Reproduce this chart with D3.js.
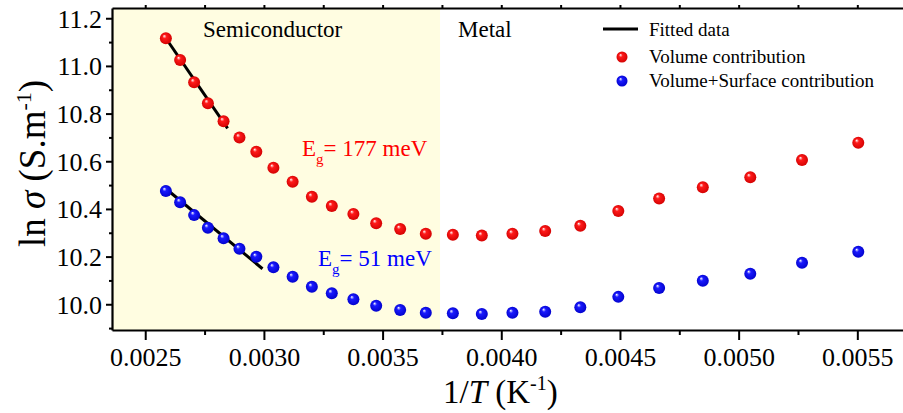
<!DOCTYPE html>
<html>
<head>
<meta charset="utf-8">
<script src="https://cdn.jsdelivr.net/npm/d3@7"></script>
<style>
  body { margin: 0; background: #fff; }
  svg { display: block; font-family: "Liberation Serif", "Times New Roman", serif; }
  svg text { font-family: "Liberation Serif", "Times New Roman", serif; }
</style>
</head>
<body>
<div id="chart"></div>
<script>
// 1/T values (K^-1) shared by both series
var invT = [0.002587, 0.002647, 0.002706, 0.002764, 0.002830, 0.002897, 0.002968,
  0.003040, 0.003121, 0.003202, 0.003286, 0.003377, 0.003473, 0.003574, 0.003682,
  0.003796, 0.003918, 0.004047, 0.004185, 0.004333, 0.004493, 0.004665, 0.004849,
  0.005049, 0.005267, 0.005504];

// ln sigma, volume contribution
var lnVolume = [11.116, 11.025, 10.931, 10.843, 10.768, 10.700, 10.640, 10.573,
  10.514, 10.451, 10.412, 10.379, 10.340, 10.316, 10.296, 10.292, 10.288, 10.296,
  10.307, 10.329, 10.391, 10.444, 10.491, 10.533, 10.605, 10.678];

// ln sigma, volume + surface contribution
var lnVolSurf = [10.475, 10.428, 10.374, 10.321, 10.277, 10.233, 10.199, 10.155,
  10.115, 10.073, 10.046, 10.021, 9.994, 9.976, 9.964, 9.962, 9.959, 9.964,
  9.969, 9.987, 10.031, 10.068, 10.099, 10.128, 10.174, 10.220];

// fitted lines (end points)
var fitVolume = [[0.002587, 11.116], [0.002847, 10.738]];
var fitVolSurf = [[0.002577, 10.493], [0.002994, 10.149]];

var semiRange = [0.00236, 0.003742];

var xTicks = [0.0025, 0.0030, 0.0035, 0.0040, 0.0045, 0.0050, 0.0055];
var xMinor = [0.00275, 0.00325, 0.00375, 0.00425, 0.00475, 0.00525];
var yTicks = [10.0, 10.2, 10.4, 10.6, 10.8, 11.0, 11.2];
var yMinor = [9.9, 10.1, 10.3, 10.5, 10.7, 10.9, 11.1];

var width = 903;
var height = 413;
var serif = '"Liberation Serif", "Times New Roman", serif';

var x = d3.scaleLinear().domain([0.00236, 0.0057]).range([112, 904.8]);
var y = d3.scaleLinear().domain([9.892, 11.243]).range([330, 8]);

var svg = d3.select("#chart").append("svg")
  .attr("width", width)
  .attr("height", height);

// sphere-like gradients
var defs = svg.append("defs");
function ball(id, light, mid, dark) {
  var g = defs.append("radialGradient")
    .attr("id", id)
    .attr("cx", "50%").attr("cy", "50%").attr("r", "55%")
    .attr("fx", "35%").attr("fy", "30%");
  g.append("stop").attr("offset", "0%").attr("stop-color", light);
  g.append("stop").attr("offset", "30%").attr("stop-color", mid);
  g.append("stop").attr("offset", "100%").attr("stop-color", dark);
}
ball("ballRed", "#ffffff", "#ff1a1a", "#d00000");
ball("ballBlue", "#ffffff", "#1a1aff", "#0000c8");

// semiconductor region
svg.append("rect")
  .attr("x", x(semiRange[0]))
  .attr("y", y(y.domain()[1]))
  .attr("width", x(semiRange[1]) - x(semiRange[0]))
  .attr("height", y(y.domain()[0]) - y(y.domain()[1]))
  .attr("fill", "#fffde1");

// axes
var xAxis = svg.append("g")
  .attr("transform", "translate(0,330)")
  .call(d3.axisBottom(x).tickValues(xTicks).tickFormat(d3.format(".4f")).tickSize(10).tickSizeOuter(0));
xAxis.selectAll("text")
  .attr("y", 36).attr("dy", 0)
  .attr("fill", "#000");

svg.append("g")
  .attr("transform", "translate(0,330)")
  .call(d3.axisBottom(x).tickValues(xMinor).tickFormat("").tickSize(5).tickSizeOuter(0))
  .select(".domain").remove();

var yAxis = svg.append("g")
  .attr("transform", "translate(112,0)")
  .call(d3.axisLeft(y).tickValues(yTicks).tickFormat(d3.format(".1f")).tickSize(6).tickSizeOuter(0));
yAxis.selectAll("text")
  .attr("x", -10)
  .attr("dy", "0.34em")
  .attr("fill", "#000");

svg.append("g")
  .attr("transform", "translate(112,0)")
  .call(d3.axisLeft(y).tickValues(yMinor).tickFormat("").tickSize(3).tickSizeOuter(0))
  .select(".domain").remove();

// top frame line with small ticks
svg.append("g")
  .attr("transform", "translate(0,8)")
  .call(d3.axisTop(x).tickValues(xTicks.concat(xMinor)).tickFormat("").tickSize(3).tickSizeOuter(0));

[xAxis, yAxis].forEach(function (a) {
  a.selectAll("text")
    .style("font-family", serif)
    .style("font-size", "26px");
});
svg.selectAll(".domain").attr("stroke", "#000").attr("stroke-width", 2.2);
svg.selectAll(".tick line").attr("stroke", "#000").attr("stroke-width", 2);

// fitted lines
var line = d3.line().x(function (d) { return x(d[0]); }).y(function (d) { return y(d[1]); });
[fitVolume, fitVolSurf].forEach(function (f) {
  svg.append("path")
    .attr("d", line(f))
    .attr("fill", "none")
    .attr("stroke", "#000")
    .attr("stroke-width", 3);
});

// data points
function dots(values, fill) {
  svg.append("g").selectAll("circle")
    .data(values)
    .join("circle")
    .attr("cx", function (d, i) { return x(invT[i]); })
    .attr("cy", function (d) { return y(d); })
    .attr("r", 6)
    .attr("fill", fill);
}
dots(lnVolume, "url(#ballRed)");
dots(lnVolSurf, "url(#ballBlue)");

// region labels
svg.append("text").attr("x", 203).attr("y", 37).style("font-size", "23px").text("Semiconductor");
svg.append("text").attr("x", 458).attr("y", 37).style("font-size", "23px").text("Metal");

// band gap labels
function gapLabel(px, py, value, color) {
  var t = svg.append("text")
    .attr("x", px).attr("y", py)
    .attr("fill", color)
    .style("font-size", "23px");
  t.append("tspan").text("E");
  t.append("tspan").attr("dy", 8).style("font-size", "15px").text("g");
  t.append("tspan").attr("dy", -8).text("= " + value + " meV");
}
gapLabel(302, 156, 177, "#ff0000");
gapLabel(318, 266, 51, "#0000ff");

// legend
var legend = svg.append("g").style("font-size", "19px");
legend.append("line")
  .attr("x1", 603).attr("x2", 638).attr("y1", 29).attr("y2", 29)
  .attr("stroke", "#000").attr("stroke-width", 3);
legend.append("text").attr("x", 649).attr("y", 36).text("Fitted data");
legend.append("circle").attr("cx", 622).attr("cy", 57).attr("r", 5.5).attr("fill", "url(#ballRed)");
legend.append("text").attr("x", 649).attr("y", 63).text("Volume contribution");
legend.append("circle").attr("cx", 622).attr("cy", 81).attr("r", 5.5).attr("fill", "url(#ballBlue)");
legend.append("text").attr("x", 649).attr("y", 87).text("Volume+Surface contribution");

// axis titles
var xt = svg.append("text")
  .attr("x", 443).attr("y", 403)
  .style("font-size", "33px");
xt.append("tspan").text("1/");
xt.append("tspan").style("font-style", "italic").text("T");
xt.append("tspan").text(" (K");
xt.append("tspan").attr("dy", -13).style("font-size", "20px").text("-1");
xt.append("tspan").attr("dy", 13).text(")");

var yt = svg.append("text")
  .attr("transform", "translate(45,247) rotate(-90)")
  .style("font-size", "37px");
yt.append("tspan").text("ln ");
yt.append("tspan").style("font-style", "italic").text("σ");
yt.append("tspan").text(" (S.m");
yt.append("tspan").attr("dy", -14).style("font-size", "22px").text("-1");
yt.append("tspan").attr("dy", 14).text(")");
</script>
</body>
</html>
